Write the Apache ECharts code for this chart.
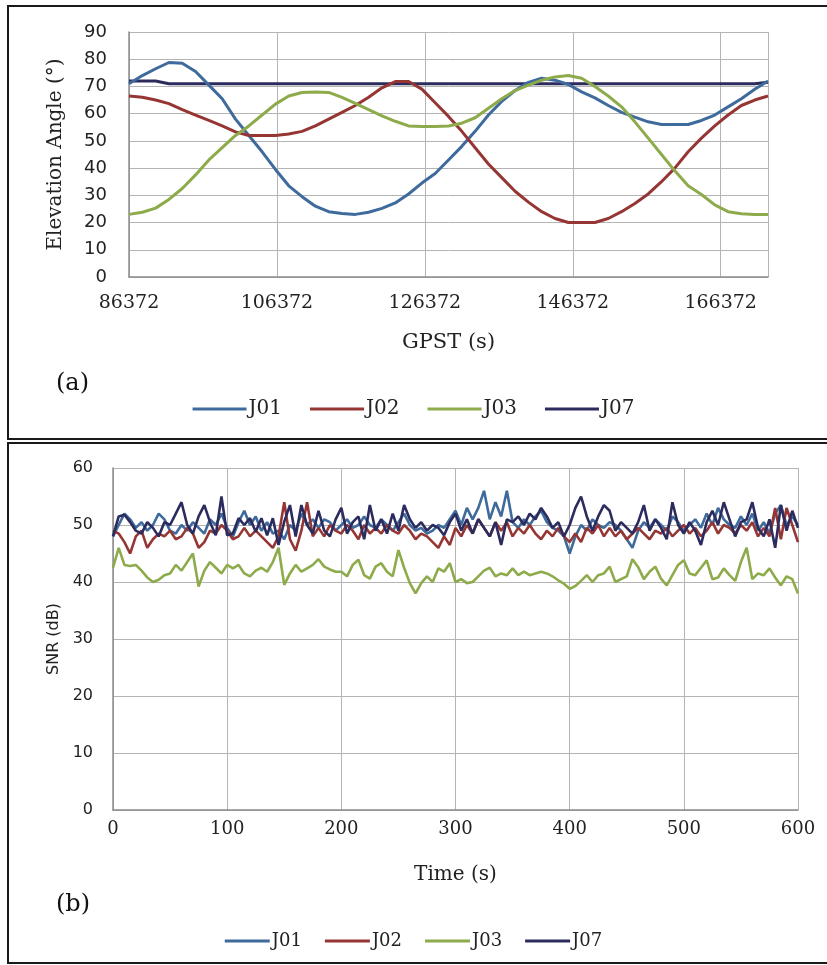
<!DOCTYPE html>
<html>
<head>
<meta charset="utf-8">
<script src="https://cdn.jsdelivr.net/npm/echarts@6/dist/echarts.min.js"></script>
<style>
  html, body { margin: 0; padding: 0; background: #fff; }
  #chart { width: 827px; height: 965px; }
</style>
</head>
<body>
<div id="chart"></div>
<script>
// ---- (a) Elevation angle over one day, sampled every 1800 s ----
const elevStart = 86372;
const elevEnd = 172772;
const elevStep = 1800;
const elevTicks = ['86372', '106372', '126372', '146372', '166372'];

const elevJ01 = [71, 74, 76.5, 78.8, 78.5, 75.5, 70.5, 65.5, 58, 52, 46, 39.5, 33.5, 29.5, 26, 24, 23.3, 23, 23.8, 25.2,
  27.2, 30.5, 34.5, 38, 43, 48, 53.5, 59.5, 64.5, 68.5, 71.5, 73, 72.3, 70.7, 68, 65.8, 63, 60.5, 58.7, 57,
  56, 56, 56, 57.5, 59.5, 62.5, 65.5, 69, 72];
const elevJ02 = [66.5, 66, 65, 63.7, 61.5, 59.5, 57.5, 55.5, 53.3, 52, 52, 52, 52.5, 53.5, 55.5, 58, 60.5, 63, 66, 69.5,
  71.8, 71.8, 69, 64, 59, 53.5, 47.5, 41.5, 36.5, 31.5, 27.5, 24, 21.5, 20, 20, 20, 21.5, 24, 27, 30.5,
  35, 40, 46, 51, 55.5, 59.5, 63, 65, 66.5];
const elevJ03 = [23, 23.8, 25.3, 28.5, 32.5, 37.5, 43, 47.5, 52, 55.5, 59.5, 63.5, 66.5, 67.8, 68, 67.8, 66, 63.8, 61.5, 59.2,
  57.2, 55.5, 55.3, 55.3, 55.5, 56.5, 58.5, 62, 65.5, 68.5, 70.5, 72.3, 73.5, 74, 73, 70, 66.5, 62.5, 57, 51,
  45, 39, 33.5, 30.3, 26.5, 24, 23.2, 23, 23];
const elevJ07 = [72, 72, 72, 71, 71, 71, 71, 71, 71, 71, 71, 71, 71, 71, 71, 71, 71, 71, 71, 71,
  71, 71, 71, 71, 71, 71, 71, 71, 71, 71, 71, 71, 71, 71, 71, 71, 71, 71, 71, 71,
  71, 71, 71, 71, 71, 71, 71, 71, 71.5];

// ---- (b) SNR over 600 s, sampled every 5 s ----
const snrStep = 5;
const snrTicks = ['0', '100', '200', '300', '400', '500', '600'];

const snrJ01 = [48, 50, 52, 51, 49.5, 50.5, 49, 50, 52, 51, 49, 48.5, 50, 49, 50.5, 49.5, 48.5, 51, 50, 52,
  49.5, 48, 50.5, 52.5, 50, 51.5, 49, 50.5, 48.5, 49, 47.5, 50, 49, 52, 50, 51, 49.5, 51, 50.5, 49,
  50, 51, 49.5, 50, 51.5, 50, 49.5, 51, 50, 49, 50.5, 52, 50, 49, 49.5, 48.5, 49, 50, 49.5, 51,
  52.5, 50, 53, 51, 53, 56, 51, 54, 51.5, 56, 50.5, 49.5, 51, 50, 51.5, 52.5, 50.5, 49.5, 49, 48,
  45, 48, 50, 49, 51, 50, 49.5, 50.5, 50, 49, 47.5, 46, 49, 50.5, 49.5, 51, 50, 49, 51.5, 50.5,
  49, 50, 51, 49.5, 52, 50, 53, 51, 50, 49.5, 51.5, 50, 52, 49, 50.5, 48.5, 52, 53.5, 50, 51.5,
  50];
const snrJ02 = [49, 48.5, 47, 45, 48, 49, 46, 47.5, 48.5, 48, 49, 47.5, 48, 49.5, 48.5, 46, 47, 49, 48.5, 50,
  49, 47.5, 48, 49.5, 48, 49, 48, 47, 46, 48, 54, 47.5, 45.5, 49, 54, 48, 49.5, 48, 50, 49,
  48.5, 50, 49, 47.5, 50, 48.5, 49.5, 48.5, 50, 49, 48.5, 50, 49, 47.5, 48.5, 48, 47, 46, 48, 46.5,
  49.5, 48, 50, 48.5, 51, 49.5, 48, 50.5, 49, 50.5, 48, 49.5, 48.5, 50, 48.5, 47.5, 49, 48, 49.5, 48,
  47, 48.5, 47, 49.5, 48.5, 50, 48, 49.5, 48, 49, 47.5, 48.5, 49.5, 48.5, 47.5, 49, 48.5, 49.5, 48, 49,
  50, 48.5, 49.5, 48, 49, 50.5, 48.5, 50, 49.5, 48.5, 50, 49, 50.5, 48, 49.5, 48, 53, 47.5, 53, 50,
  47];
const snrJ03 = [42.5, 46, 43, 42.8, 43, 42, 40.8, 40, 40.4, 41.2, 41.5, 43, 42, 43.5, 45, 39.2, 42, 43.5, 42.5, 41.5,
  43, 42.4, 43, 41.5, 41, 42, 42.5, 41.8, 43.5, 46, 39.5, 41.5, 43, 41.8, 42.4, 43, 44, 42.7, 42.2, 41.8,
  41.8, 41, 43, 43.9, 41.2, 40.6, 42.7, 43.3, 41.8, 41, 45.6, 42.5, 39.8, 38, 39.8, 41, 40, 42.4, 41.8, 43.3,
  40, 40.5, 39.8, 40, 41, 42, 42.5, 41, 41.5, 41.2, 42.4, 41.2, 41.8, 41.2, 41.5, 41.8, 41.5, 41, 40.3, 39.7,
  38.8, 39.3, 40.2, 41.2, 40, 41.2, 41.5, 42.7, 40, 40.5, 41, 44, 42.6, 40.5, 41.8, 42.7, 40.6, 39.4, 41.2, 43,
  43.8, 41.5, 41.2, 42.5, 43.8, 40.5, 40.8, 42.4, 41.2, 40.2, 43.5, 46, 40.5, 41.5, 41.2, 42.4, 40.8, 39.4, 41, 40.5,
  38];
const snrJ07 = [48, 51.5, 51.8, 50.5, 49, 48.5, 50.5, 49.5, 48, 50.5, 50, 52, 54, 50, 48.5, 51.5, 53.5, 50.5, 48.2, 55,
  48.2, 48.5, 51.2, 50, 51.2, 48.8, 51.2, 48.2, 51.2, 46.5, 50.6, 53.5, 48, 53.5, 50, 48.5, 52.5, 49, 48, 51,
  53, 48.5, 50.5, 51.5, 47.5, 53.5, 49, 51, 48.5, 52, 49, 53.5, 51, 49.5, 50.5, 49, 50, 49.5, 48.2, 50.5,
  52, 49, 51, 48.5, 51, 49.5, 48, 50.5, 46.5, 51, 50.5, 51.5, 50, 52, 51, 53, 51.5, 49.5, 50.5, 48,
  50, 53, 55, 51.5, 49, 51.5, 53.5, 52.5, 49, 50.5, 49.5, 48.5, 50.5, 53.5, 49, 51, 49.5, 47.5, 54, 50,
  48.5, 50.5, 49, 46.5, 50.5, 52.5, 50, 54, 51, 48, 50.5, 51, 54, 49.5, 48, 51, 46, 53.5, 49, 52.5,
  49.5];

const seriesNames = ['J01', 'J02', 'J03', 'J07'];
const seriesColors = ['#3e6a9c', '#963634', '#8dab4b', '#2c2b5e'];

// pair each sampled value with its time stamp
const withTime = (vals, start, step) => vals.map((v, i) => [start + i * step, v]);

const serif = 'DejaVu Serif';
const sans = 'DejaVu Sans';
const textColor = '#222';
const gridColor = '#b4b4b4';

const elevSets = [elevJ01, elevJ02, elevJ03, elevJ07];
const snrSets = [snrJ01, snrJ02, snrJ03, snrJ07];

const series = [];
seriesNames.forEach((name, k) => {
  series.push({
    name, type: 'line', xAxisIndex: 0, yAxisIndex: 0, symbol: 'none',
    data: withTime(elevSets[k], elevStart, elevStep),
    lineStyle: { width: 3, color: seriesColors[k] }, itemStyle: { color: seriesColors[k] },
    z: k === 3 ? 1 : 2
  });
});
seriesNames.forEach((name, k) => {
  series.push({
    name, type: 'line', xAxisIndex: 1, yAxisIndex: 1, symbol: 'none',
    data: withTime(snrSets[k], 0, snrStep),
    lineStyle: { width: 2.6, color: seriesColors[k] }, itemStyle: { color: seriesColors[k] }
  });
});

const legendBase = (top, fontSize, lineLen, gap) => ({
  data: seriesNames, top, left: 'center', icon: 'rect',
  itemWidth: lineLen, itemHeight: 3, itemGap: gap,
  textStyle: { fontFamily: serif, fontSize, color: textColor, padding: [0, 0, 0, -3] },
  selectedMode: false
});

const option = {
  animation: false,
  backgroundColor: '#fff',
  grid: [
    { left: 129, top: 32, right: 59, height: 245 },
    { left: 113, top: 468, right: 29, height: 342 }
  ],
  xAxis: [
    {
      gridIndex: 0, type: 'value', min: elevStart, max: elevEnd, interval: 20000,
      name: 'GPST (s)', nameLocation: 'middle', nameGap: 55,
      nameTextStyle: { fontFamily: serif, fontSize: 21, color: textColor },
      axisLine: { lineStyle: { color: '#8c8c8c', width: 1.5 } },
      axisTick: { show: false },
      splitLine: { lineStyle: { color: gridColor } },
      axisLabel: {
        showMaxLabel: false, margin: 17, fontFamily: serif, fontSize: 19, color: textColor,
        formatter: v => elevTicks[Math.round((v - elevStart) / 20000)] ?? ''
      }
    },
    {
      gridIndex: 1, type: 'value', min: 0, max: 600, interval: 100,
      name: 'Time (s)', nameLocation: 'middle', nameGap: 55,
      nameTextStyle: { fontFamily: serif, fontSize: 20, color: textColor },
      axisLine: { lineStyle: { color: '#8c8c8c', width: 1.5 } },
      axisTick: { show: false },
      splitLine: { lineStyle: { color: gridColor } },
      axisLabel: {
        margin: 10, fontFamily: serif, fontSize: 18, color: textColor,
        formatter: v => snrTicks[Math.round(v / 100)] ?? ''
      }
    }
  ],
  yAxis: [
    {
      gridIndex: 0, type: 'value', min: 0, max: 90, interval: 10,
      name: 'Elevation Angle (°)', nameLocation: 'middle', nameGap: 63,
      nameTextStyle: { fontFamily: serif, fontSize: 20, color: textColor },
      axisLine: { show: true, lineStyle: { color: '#8c8c8c', width: 1.5 } },
      axisTick: { show: false },
      splitLine: { lineStyle: { color: gridColor } },
      axisLabel: { margin: 22, fontFamily: sans, fontSize: 18, color: textColor }
    },
    {
      gridIndex: 1, type: 'value', min: 0, max: 60, interval: 10,
      name: 'SNR (dB)', nameLocation: 'middle', nameGap: 48,
      nameTextStyle: { fontFamily: sans, fontSize: 16, color: textColor },
      axisLine: { show: true, lineStyle: { color: '#8c8c8c', width: 1.5 } },
      axisTick: { show: false },
      splitLine: { lineStyle: { color: gridColor } },
      axisLabel: { margin: 20, fontFamily: sans, fontSize: 16, color: textColor }
    }
  ],
  legend: [
    legendBase(394, 20, 54, 28),
    legendBase(927, 18, 45, 23)
  ],
  graphic: [
    { type: 'rect', shape: { x: 8, y: 6, width: 840, height: 433 },
      style: { fill: 'none', stroke: '#1a1a1a', lineWidth: 2 }, silent: true },
    { type: 'rect', shape: { x: 8, y: 443, width: 840, height: 520 },
      style: { fill: 'none', stroke: '#1a1a1a', lineWidth: 2 }, silent: true },
    { type: 'text', left: 56, top: 372,
      style: { text: '(a)', font: '24px "DejaVu Serif"', fill: '#111' } },
    { type: 'text', left: 56, top: 893,
      style: { text: '(b)', font: '24px "DejaVu Serif"', fill: '#111' } }
  ],
  series
};

const chart = echarts.init(document.getElementById('chart'), null, { renderer: 'canvas' });
chart.setOption(option);
</script>
</body>
</html>
